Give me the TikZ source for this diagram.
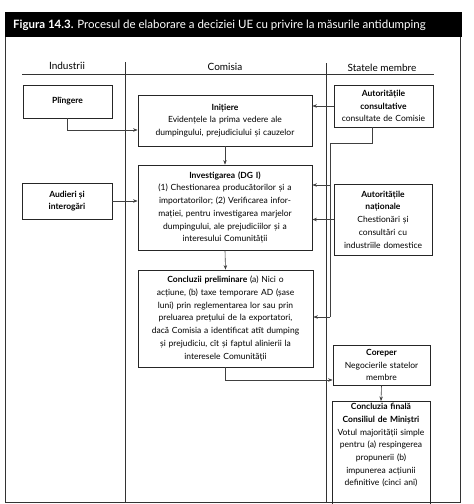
\documentclass[tikz,border=0pt]{standalone}
\usepackage{fontspec}
\setmainfont{Lato}
\usetikzlibrary{arrows.meta}
\tikzset{
  box/.style={draw=black!85, line width=0.8pt, align=center, inner sep=2pt,
    font=\fontsize{8.5}{12.7}\selectfont},
  conn/.style={draw=black!75, line width=0.6pt, -{Stealth[length=4.5pt,width=3.5pt]}},
  plainline/.style={draw=black!75, line width=0.6pt},
  framel/.style={draw=black!80, line width=0.9pt},
  head/.style={font=\fontsize{10}{12}\selectfont},
  titletext/.style={font=\fontsize{11.5}{13}\selectfont, text=white, inner sep=0pt}
}
\begin{document}
\begin{tikzpicture}[x=1pt,y=-1pt]
\useasboundingbox (0,0) rectangle (474,504);
\clip (0,0) rectangle (474,504);
% title bar
\fill[black] (5,12) rectangle (462,37);
\node[titletext, anchor=west] (title) at (13,25)
  {\textbf{Figura 14.3.} Procesul de elaborare a deciziei UE cu privire la măsurile antidumping};
% frame and columns
\draw[framel] (5,37) -- (5,502) -- (460,502) -- (460,37);
\draw[framel] (125,62) -- (125,502);
\draw[framel] (326,63) -- (326,502);
\draw[framel, line width=0.7pt] (22,74) -- (434,74);
\node[head] (hind) at (67,66) {Industrii};
\node[head] (hcom) at (225,67) {Comisia};
\node[head] (hsta) at (382,68) {Statele membre};
% boxes
\node[box, minimum width=89pt, minimum height=33pt] (plin) at (67.5,101.5) {\textbf{Plîngere}};
\node[box, text width=170pt, minimum height=51pt] (init) at (225,120.5)
  {\textbf{Inițiere}\\Evidențele la prima vedere ale\\dumpingului, prejudiciului și cauzelor};
\node[box, text width=95pt, minimum height=42pt] (cons) at (383.5,106)
  {\textbf{Autoritățile}\\\textbf{consultative}\\consultate de Comisie};
\node[box, text width=170pt, minimum height=85pt] (inv) at (225,207.5)
  {\textbf{Investigarea (DG I)}\\(1) Chestionarea producătorilor și a\\importatorilor; (2) Verificarea infor-\\mației, pentru investigarea marjelor\\dumpingului, ale prejudiciilor și a\\interesului Comunității};
\node[box, minimum width=90pt, minimum height=36pt] (aud) at (67,201)
  {\textbf{Audieri și}\\\textbf{interogări}};
\node[box, text width=94pt, minimum height=71pt] (nat) at (383,219.5)
  {\textbf{Autoritățile}\\\textbf{naționale}\\Chestionări și\\consultări cu\\industriile domestice};
\node[box, text width=171pt, minimum height=97pt] (conc) at (225.5,318.5)
  {\textbf{Concluzii preliminare} (a) Nici o\\acțiune, (b) taxe temporare AD (șase\\luni) prin reglementarea lor sau prin\\preluarea prețului de la exportatori,\\dacă Comisia a identificat atît dumping\\și prejudiciu, cît și faptul alinierii la\\interesele Comunității};
\node[box, text width=93pt, minimum height=40pt] (cor) at (381.5,365)
  {\textbf{Coreper}\\Negocierile statelor\\membre};
\node[box, text width=94pt, text depth=110pt, anchor=north] (fin) at (381,401)
  {\textbf{Concluzia finală}\\\textbf{Consiliul de Miniștri}\\Votul majorității simple\\pentru (a) respingerea\\propunerii (b)\\impunerea acțiunii\\definitive (cinci ani)};
% connectors
\coordinate (c1) at (330,143);
\coordinate (c2) at (330,185);
\coordinate (c3) at (330,317);
\draw[conn] (plin.south) |- ([yshift=-9.5pt]init.west);
\draw[conn] (cons.west) -- (cons.west -| init.east);
\draw[conn] (init.south) -- (inv.north);
\draw[plainline] ([xshift=-11pt]cons.south) |- (c1) -- (c3);
\draw[conn] (c2) -- (c2 -| inv.east);
\draw[conn] (c3) -- (c3 -| conc.east);
\draw[conn] (aud.east) -- (aud.east -| inv.west);
\draw[conn] (nat.west) -- (nat.west -| inv.east);
\draw[conn] (inv.south) -- (conc.north);
\draw[conn] (conc.south) |- ([yshift=-15pt]cor.west);
\draw[conn] (cor.south) -- (fin.north);
\end{tikzpicture}
\end{document}
